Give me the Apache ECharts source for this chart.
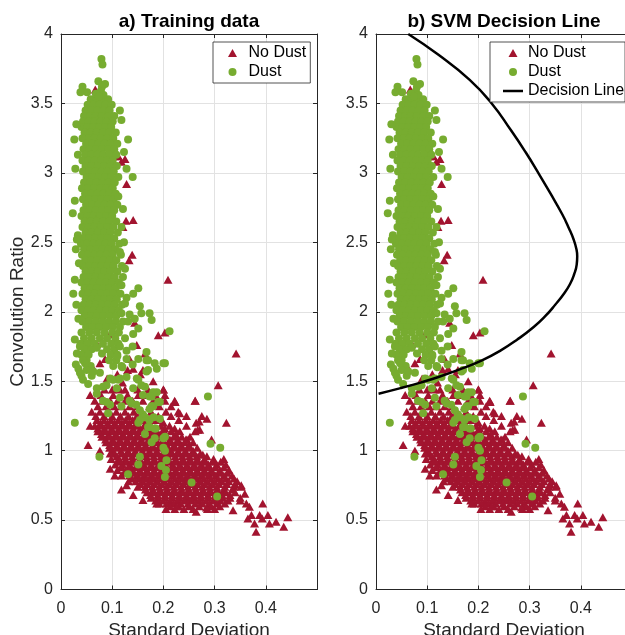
<!DOCTYPE html>
<html>
<head>
<meta charset="utf-8">
<script src="https://cdn.jsdelivr.net/npm/echarts@6/dist/echarts.min.js"></script>
<style>html,body{margin:0;padding:0;background:#fff}#c{width:625px;height:635px}</style>
</head>
<body>
<div id="c"></div>
<script>
// ---------------- DATA ----------------
const titles = ['a) Training data', 'b) SVM Decision Line'];
const xAxisName = 'Standard Deviation';
const yAxisName = 'Convolution Ratio';
const seriesNames = ['No Dust', 'Dust', 'Decision Line'];
const xTickLabels = ['0', '0.1', '0.2', '0.3', '0.4'];
const yTickLabels = ['0', '0.5', '1', '1.5', '2', '2.5', '3', '3.5', '4'];

// Dust: dense core rows  [y, [x values]]
const dustRows = [
  [3.53, [0.058, 0.069, 0.081, 0.092]],
  [3.49, [0.052, 0.063, 0.075, 0.087, 0.099]],
  [3.45, [0.048, 0.060, 0.071, 0.083, 0.095]],
  [3.41, [0.045, 0.057, 0.068, 0.080, 0.092, 0.104]],
  [3.37, [0.043, 0.054, 0.066, 0.077, 0.089, 0.101]],
  [3.33, [0.040, 0.052, 0.063, 0.075, 0.086, 0.098]],
  [3.29, [0.046, 0.058, 0.070, 0.082, 0.094, 0.107]],
  [3.25, [0.042, 0.055, 0.066, 0.078, 0.090, 0.102]],
  [3.21, [0.049, 0.061, 0.073, 0.085, 0.097, 0.110]],
  [3.17, [0.044, 0.056, 0.068, 0.080, 0.093, 0.104]],
  [3.13, [0.047, 0.059, 0.071, 0.083, 0.095, 0.108]],
  [3.09, [0.042, 0.054, 0.066, 0.078, 0.090, 0.101]],
  [3.05, [0.048, 0.060, 0.072, 0.084, 0.096, 0.109]],
  [3.01, [0.043, 0.055, 0.067, 0.079, 0.091, 0.103]],
  [2.97, [0.050, 0.062, 0.074, 0.086, 0.098, 0.112]],
  [2.93, [0.045, 0.057, 0.069, 0.081, 0.093, 0.105]],
  [2.89, [0.041, 0.053, 0.065, 0.077, 0.089, 0.101]],
  [2.85, [0.047, 0.059, 0.071, 0.083, 0.095, 0.107]],
  [2.81, [0.043, 0.055, 0.067, 0.079, 0.091, 0.103]],
  [2.77, [0.049, 0.061, 0.073, 0.085, 0.097, 0.110]],
  [2.73, [0.044, 0.056, 0.068, 0.080, 0.092, 0.104]],
  [2.69, [0.040, 0.052, 0.064, 0.076, 0.088, 0.100]],
  [2.65, [0.046, 0.058, 0.070, 0.082, 0.094, 0.108]],
  [2.61, [0.042, 0.054, 0.066, 0.078, 0.090, 0.102]],
  [2.57, [0.048, 0.060, 0.072, 0.084, 0.096, 0.111]],
  [2.53, [0.043, 0.055, 0.067, 0.079, 0.091, 0.104]],
  [2.49, [0.039, 0.051, 0.063, 0.075, 0.087, 0.099, 0.114]],
  [2.45, [0.045, 0.057, 0.069, 0.081, 0.093, 0.106]],
  [2.41, [0.041, 0.053, 0.065, 0.077, 0.089, 0.101, 0.117]],
  [2.37, [0.047, 0.059, 0.071, 0.083, 0.095, 0.108]],
  [2.33, [0.043, 0.055, 0.067, 0.079, 0.091, 0.103, 0.119]],
  [2.29, [0.048, 0.060, 0.072, 0.084, 0.096, 0.110]],
  [2.25, [0.044, 0.056, 0.068, 0.080, 0.092, 0.105, 0.121]],
  [2.21, [0.040, 0.052, 0.064, 0.076, 0.088, 0.100, 0.113]],
  [2.17, [0.046, 0.058, 0.070, 0.082, 0.094, 0.107]],
  [2.13, [0.042, 0.054, 0.066, 0.078, 0.090, 0.102, 0.116]],
  [2.09, [0.048, 0.060, 0.072, 0.084, 0.096, 0.109]],
  [2.05, [0.044, 0.056, 0.068, 0.080, 0.092, 0.105, 0.119]],
  [2.01, [0.040, 0.052, 0.064, 0.076, 0.088, 0.100, 0.113]],
  [1.97, [0.046, 0.058, 0.070, 0.082, 0.095, 0.108]],
  [1.93, [0.042, 0.055, 0.068, 0.081, 0.094, 0.107, 0.121]],
  [1.89, [0.049, 0.062, 0.075, 0.088, 0.101, 0.115]],
  [1.85, [0.040, 0.055, 0.070, 0.085, 0.100, 0.113]],
  [1.81, [0.045, 0.060, 0.076, 0.090, 0.106]],
  [1.77, [0.038, 0.052, 0.066, 0.082, 0.098, 0.112]],
  [1.73, [0.046, 0.060, 0.090, 0.104]],
  [1.69, [0.040, 0.054, 0.097, 0.110]],
  [1.65, [0.050, 0.094, 0.108]],
  [1.61, [0.058, 0.102, 0.118]]
];
// Dust: scattered points [x, y]
const dustPoints = [
  [0.079,3.82],[0.081,3.78],[0.073,3.66],[0.086,3.64],[0.080,3.62],[0.078,3.59],[0.083,3.56],
  [0.042,3.62],[0.038,3.58],[0.051,3.58],[0.068,3.57],[0.074,3.55],
  [0.026,3.24],[0.028,3.03],[0.027,2.80],[0.023,2.71],[0.030,3.35],[0.033,2.55],[0.029,2.45],
  [0.031,2.52],[0.027,2.23],[0.024,2.13],[0.034,1.95],[0.030,2.05],[0.035,2.35],[0.033,3.13],
  [0.131,3.24],[0.123,3.15],[0.128,3.03],[0.140,2.97],[0.118,3.38],[0.115,3.45],[0.112,2.83],
  [0.123,2.50],[0.115,2.43],[0.125,2.31],[0.118,2.61],[0.121,2.74],[0.118,2.19],
  [0.151,2.17],[0.141,2.13],[0.128,2.10],[0.125,2.06],[0.154,2.04],[0.157,1.99],[0.134,1.98],
  [0.144,1.95],[0.118,1.99],[0.173,1.99],[0.177,1.94],[0.212,1.86],[0.151,1.88],[0.141,1.84],
  [0.125,1.81],[0.131,1.93],[0.115,1.75],[0.128,1.72],[0.151,1.66],[0.167,1.71],[0.170,1.65],
  [0.183,1.63],[0.203,1.63],[0.187,1.59],[0.170,1.58],[0.151,1.51],[0.128,1.53],[0.112,1.51],
  [0.096,1.52],[0.076,1.56],[0.060,1.54],[0.043,1.51],[0.053,1.48],[0.070,1.45],[0.082,1.46],
  [0.109,1.45],[0.141,1.45],[0.164,1.46],[0.160,1.40],[0.134,1.36],[0.118,1.32],[0.147,1.33],
  [0.173,1.39],[0.187,1.42],[0.193,1.35],[0.180,1.32],[0.160,1.26],[0.173,1.22],[0.151,1.20],
  [0.173,1.17],[0.164,1.12],[0.183,1.09],[0.203,1.10],[0.203,1.00],[0.082,1.36],[0.096,1.33],
  [0.027,1.20],[0.075,0.956],[0.027,1.80],[0.031,1.70],[0.037,1.75],[0.043,1.65],[0.029,1.62],
  [0.034,1.59],[0.050,1.58],[0.040,1.54],[0.047,1.63],[0.037,1.56],[0.063,1.57],[0.089,1.47],
  [0.102,1.51],[0.115,1.52],[0.128,1.66],[0.167,1.65],[0.200,1.63],[0.167,1.57],[0.148,1.52],
  [0.157,1.47],[0.180,1.42],[0.138,1.34],[0.089,1.35],[0.070,1.41],[0.115,1.38],[0.154,1.29],
  [0.164,1.24],[0.170,1.17],[0.193,1.23],[0.092,1.27],[0.177,1.32],[0.190,1.35],[0.177,1.39],
  [0.191,1.35],[0.287,1.39],[0.173,1.30],[0.181,1.24],[0.185,1.16],[0.177,1.06],[0.200,1.09],
  [0.200,1.02],[0.206,0.93],[0.196,0.89],[0.205,0.86],[0.203,0.81],[0.255,0.77],[0.292,1.05],
  [0.311,1.02],[0.305,0.67],[0.131,0.83],[0.154,0.956],[0.151,0.90],[0.154,1.22],[0.183,1.16],
  [0.140,1.62],[0.120,1.60],[0.110,1.68],[0.140,1.75],[0.080,1.70],[0.070,1.74]
];

// No Dust: dense core rows [y, [x values]]
const noDustRows = [
  [1.44, [0.085, 0.100, 0.115, 0.125, 0.150, 0.170, 0.200]],
  [1.40, [0.057, 0.078, 0.102, 0.130, 0.151, 0.165, 0.185, 0.203]],
  [1.36, [0.066, 0.082, 0.096, 0.110, 0.125, 0.140, 0.160, 0.180, 0.203, 0.222, 0.262]],
  [1.32, [0.072, 0.088, 0.104, 0.118, 0.134, 0.150, 0.173, 0.192, 0.215]],
  [1.28, [0.060, 0.076, 0.092, 0.108, 0.125, 0.142, 0.158, 0.176, 0.205, 0.229]],
  [1.25, [0.068, 0.084, 0.100, 0.116, 0.132, 0.148, 0.165, 0.190, 0.215, 0.245, 0.275]],
  [1.22, [0.070, 0.084, 0.098, 0.112, 0.126, 0.140, 0.160, 0.185, 0.230]],
  [1.20, [0.077, 0.091, 0.105, 0.119, 0.133, 0.147, 0.171, 0.200]],
  [1.18, [0.066, 0.078, 0.092, 0.106, 0.120, 0.134, 0.148, 0.162, 0.176, 0.195, 0.212, 0.245]],
  [1.16, [0.072, 0.085, 0.099, 0.113, 0.127, 0.141, 0.155, 0.169, 0.183, 0.203, 0.222]],
  [1.14, [0.072, 0.086, 0.100, 0.114, 0.128, 0.142, 0.156, 0.170, 0.184, 0.198, 0.215, 0.232, 0.262]],
  [1.12, [0.079, 0.093, 0.107, 0.121, 0.135, 0.149, 0.163, 0.177, 0.191, 0.205, 0.224]],
  [1.10, [0.080, 0.094, 0.108, 0.122, 0.136, 0.150, 0.164, 0.178, 0.192, 0.206, 0.220, 0.236, 0.252]],
  [1.08, [0.087, 0.101, 0.115, 0.129, 0.143, 0.157, 0.171, 0.185, 0.199, 0.213, 0.228, 0.246]],
  [1.06, [0.088, 0.102, 0.116, 0.130, 0.144, 0.158, 0.172, 0.186, 0.200, 0.214, 0.228, 0.242, 0.258]],
  [1.04, [0.095, 0.109, 0.123, 0.137, 0.151, 0.165, 0.179, 0.193, 0.207, 0.221, 0.235, 0.250]],
  [1.02, [0.095, 0.110, 0.124, 0.138, 0.152, 0.166, 0.180, 0.194, 0.208, 0.222, 0.236, 0.250, 0.266]],
  [1.00, [0.102, 0.117, 0.131, 0.145, 0.159, 0.173, 0.187, 0.201, 0.215, 0.229, 0.243, 0.258]],
  [0.98, [0.104, 0.118, 0.132, 0.146, 0.160, 0.174, 0.188, 0.202, 0.216, 0.230, 0.244, 0.258, 0.272]],
  [0.96, [0.109, 0.125, 0.139, 0.153, 0.167, 0.181, 0.195, 0.209, 0.223, 0.237, 0.251, 0.265, 0.285]],
  [0.94, [0.098, 0.112, 0.126, 0.140, 0.154, 0.168, 0.182, 0.196, 0.210, 0.224, 0.238, 0.252, 0.266, 0.280, 0.298, 0.318]],
  [0.92, [0.113, 0.127, 0.141, 0.155, 0.169, 0.183, 0.197, 0.211, 0.225, 0.239, 0.253, 0.267, 0.281, 0.296, 0.312]],
  [0.90, [0.106, 0.120, 0.134, 0.148, 0.162, 0.176, 0.190, 0.204, 0.218, 0.232, 0.246, 0.260, 0.274, 0.288, 0.304, 0.322]],
  [0.88, [0.118, 0.133, 0.147, 0.161, 0.175, 0.189, 0.203, 0.217, 0.231, 0.245, 0.259, 0.273, 0.287, 0.302, 0.318]],
  [0.86, [0.110, 0.126, 0.140, 0.154, 0.168, 0.182, 0.196, 0.210, 0.224, 0.238, 0.252, 0.266, 0.280, 0.294, 0.310, 0.328]],
  [0.84, [0.125, 0.141, 0.155, 0.169, 0.183, 0.197, 0.211, 0.225, 0.239, 0.253, 0.267, 0.281, 0.295, 0.310, 0.325]],
  [0.82, [0.118, 0.134, 0.148, 0.162, 0.176, 0.190, 0.204, 0.218, 0.232, 0.246, 0.260, 0.274, 0.288, 0.302, 0.318, 0.334]],
  [0.80, [0.139, 0.153, 0.167, 0.181, 0.195, 0.209, 0.223, 0.237, 0.251, 0.265, 0.279, 0.293, 0.307, 0.322, 0.338]],
  [0.78, [0.132, 0.146, 0.160, 0.174, 0.188, 0.202, 0.216, 0.230, 0.244, 0.258, 0.272, 0.286, 0.300, 0.314, 0.328, 0.344]],
  [0.76, [0.155, 0.169, 0.183, 0.197, 0.211, 0.225, 0.239, 0.253, 0.267, 0.281, 0.295, 0.309, 0.324, 0.340]],
  [0.74, [0.150, 0.164, 0.178, 0.192, 0.206, 0.220, 0.234, 0.248, 0.262, 0.276, 0.290, 0.304, 0.320, 0.338, 0.352]],
  [0.72, [0.165, 0.179, 0.193, 0.207, 0.221, 0.235, 0.249, 0.263, 0.277, 0.291, 0.305, 0.318, 0.334]],
  [0.70, [0.168, 0.182, 0.196, 0.210, 0.224, 0.238, 0.252, 0.266, 0.280, 0.294, 0.308, 0.322, 0.340]],
  [0.68, [0.175, 0.189, 0.203, 0.217, 0.231, 0.245, 0.259, 0.273, 0.287, 0.301, 0.315, 0.330]],
  [0.66, [0.176, 0.190, 0.204, 0.218, 0.232, 0.246, 0.260, 0.274, 0.288, 0.302, 0.316, 0.330, 0.350]],
  [0.64, [0.185, 0.199, 0.213, 0.227, 0.241, 0.255, 0.269, 0.283, 0.297, 0.311, 0.326]],
  [0.62, [0.192, 0.206, 0.220, 0.234, 0.248, 0.262, 0.276, 0.290, 0.304, 0.320]],
  [0.60, [0.213, 0.230, 0.250, 0.270, 0.293, 0.310]],
  [0.58, [0.205, 0.222, 0.240, 0.258, 0.286, 0.300]]
];
// No Dust: scattered points [x, y]
const noDustPoints = [
  [0.067,3.60],[0.091,3.45],[0.112,3.12],[0.125,3.10],[0.118,3.08],[0.128,2.92],[0.085,3.10],
  [0.095,3.08],[0.105,3.12],[0.121,2.61],[0.127,2.655],[0.141,2.66],[0.133,2.37],[0.139,2.41],
  [0.209,2.23],[0.144,1.92],[0.190,1.83],[0.203,1.85],[0.096,1.84],[0.070,1.77],[0.050,1.74],
  [0.148,1.76],[0.134,1.66],[0.076,1.63],[0.063,1.59],[0.086,1.66],[0.160,1.58],[0.141,1.59],
  [0.180,1.50],[0.164,1.70],[0.342,1.70],[0.307,1.47],[0.262,1.36],[0.223,1.35],[0.200,1.44],
  [0.057,1.18],[0.110,1.55],[0.130,1.58],[0.155,1.55],[0.090,1.52],[0.120,1.49],
  [0.232,1.27],[0.264,1.20],[0.270,1.21],[0.271,1.15],[0.285,1.23],[0.323,1.20],[0.294,1.08],
  [0.244,1.08],[0.267,1.15],[0.277,0.97],[0.053,1.04],[0.076,1.00],[0.096,0.98],[0.096,0.87],
  [0.115,0.93],[0.128,0.75],[0.141,0.68],[0.160,0.645],[0.187,0.62],[0.226,0.60],[0.264,0.56],
  [0.284,0.59],[0.336,0.57],[0.105,0.82],[0.118,0.72],[0.352,0.75],[0.359,0.69],[0.362,0.62],
  [0.368,0.595],[0.350,0.64],[0.394,0.62],[0.372,0.536],[0.388,0.536],[0.404,0.536],[0.378,0.476],
  [0.381,0.416],[0.407,0.476],[0.420,0.488],[0.435,0.452],[0.443,0.52],[0.365,0.512],[0.393,0.512]
];

// Decision line [x, y]
const decisionLine = [
  [0.063,4.00],[0.122,3.85],[0.183,3.67],[0.226,3.50],[0.263,3.31],[0.292,3.15],[0.317,3.00],
  [0.341,2.85],[0.364,2.70],[0.377,2.60],[0.386,2.52],[0.3915,2.45],[0.393,2.40],[0.392,2.34],
  [0.387,2.27],[0.379,2.20],[0.367,2.13],[0.350,2.05],[0.331,1.97],[0.308,1.89],[0.276,1.80],
  [0.243,1.72],[0.207,1.65],[0.167,1.59],[0.122,1.53],[0.087,1.49],[0.048,1.45],[0.005,1.41]
];

// ---------------- BUILD ----------------
function fromRows(rows) {
  const out = [];
  rows.forEach(r => r[1].forEach(x => out.push([x, r[0]])));
  return out;
}
const noDust = fromRows(noDustRows).concat(noDustPoints);
const dust = fromRows(dustRows).concat(dustPoints);

const FONT = '"Liberation Sans", Arial, Helvetica, sans-serif';
const AX = '#262626';
const RED = '#A2142F';
const GREEN = '#77AC30';
const GRIDC = '#e2e2e2';

function xAxes(g) {
  return [
    { type: 'value', gridIndex: g, min: 0, max: 0.5, interval: 0.1,
      name: xAxisName, nameLocation: 'middle', nameGap: 29,
      nameTextStyle: { fontSize: 19, color: AX, fontFamily: FONT },
      axisLine: { show: true, onZero: false, lineStyle: { color: AX, width: 1 } },
      axisTick: { show: true, inside: true, length: 4, lineStyle: { color: AX } },
      axisLabel: { fontSize: 16, color: AX, fontFamily: FONT, margin: 11,
        formatter: v => { const i = Math.round(v * 10); return i < xTickLabels.length ? xTickLabels[i] : ''; } },
      splitLine: { show: true, lineStyle: { color: GRIDC, width: 1 } } },
    { type: 'value', gridIndex: g, position: 'top', min: 0, max: 0.5, interval: 0.1,
      axisLine: { show: true, onZero: false, lineStyle: { color: AX, width: 1 } },
      axisTick: { show: true, inside: true, length: 4, lineStyle: { color: AX } },
      axisLabel: { show: false }, splitLine: { show: false } }
  ];
}
function yAxes(g, named) {
  return [
    { type: 'value', gridIndex: g, min: 0, max: 4, interval: 0.5,
      name: named ? yAxisName : '', nameLocation: 'middle', nameGap: 33,
      nameTextStyle: { fontSize: 19, color: AX, fontFamily: FONT },
      axisLine: { show: true, onZero: false, lineStyle: { color: AX, width: 1 } },
      axisTick: { show: true, inside: true, length: 4, lineStyle: { color: AX } },
      axisLabel: { fontSize: 16, color: AX, fontFamily: FONT, margin: 8,
        formatter: v => yTickLabels[Math.round(v * 2)] },
      splitLine: { show: true, lineStyle: { color: GRIDC, width: 1 } } },
    { type: 'value', gridIndex: g, position: 'right', min: 0, max: 4, interval: 0.5,
      axisLine: { show: true, onZero: false, lineStyle: { color: AX, width: 1 } },
      axisTick: { show: true, inside: true, length: 4, lineStyle: { color: AX } },
      axisLabel: { show: false }, splitLine: { show: false } }
  ];
}

const legendCommon = {
  orient: 'vertical', top: 42, itemGap: 3, itemHeight: 8,
  backgroundColor: '#fff', borderColor: AX, borderWidth: 0.8, borderRadius: 0,
  selectedMode: false, symbolKeepAspect: true,
  textStyle: { fontSize: 16, color: '#000', fontFamily: FONT, lineHeight: 16 }
};
const TRI_ICON = 'path://M4.5,0L9,8L0,8Z';
const LINE_ICON = 'path://M0,0H20V2.5H0Z';

const option = {
  animation: false,
  backgroundColor: '#fff',
  title: [
    { text: titles[0], left: 189, top: 12, padding: 0, textAlign: 'center',
      textStyle: { fontSize: 19, fontWeight: 'bold', color: '#000', fontFamily: FONT } },
    { text: titles[1], left: 504, top: 12, padding: 0, textAlign: 'center',
      textStyle: { fontSize: 19, fontWeight: 'bold', color: '#000', fontFamily: FONT } }
  ],
  legend: [
    Object.assign({}, legendCommon, { left: 213, padding: [3, 4, 3, 15], itemWidth: 22,
      data: [{ name: seriesNames[0], icon: TRI_ICON }, { name: seriesNames[1], icon: 'circle' }] }),
    Object.assign({}, legendCommon, { left: 490, padding: [3, 1, 3, 13], itemWidth: 20,
      data: [{ name: seriesNames[0], icon: TRI_ICON }, { name: seriesNames[1], icon: 'circle' },
             { name: seriesNames[2], icon: LINE_ICON }] })
  ],
  grid: [
    { left: 61, top: 34, width: 256, height: 555.5, outerBoundsMode: 'none', containLabel: false },
    { left: 376, top: 34, width: 256, height: 555.5, outerBoundsMode: 'none', containLabel: false }
  ],
  xAxis: xAxes(0).concat(xAxes(1)),
  yAxis: yAxes(0, true).concat(yAxes(1, false)),
  series: [
    { name: seriesNames[0], type: 'scatter', xAxisIndex: 0, yAxisIndex: 0, data: noDust,
      symbol: 'triangle', symbolSize: [9, 8], itemStyle: { color: RED, opacity: 1 } },
    { name: seriesNames[1], type: 'scatter', xAxisIndex: 0, yAxisIndex: 0, data: dust,
      symbol: 'circle', symbolSize: 8, itemStyle: { color: GREEN, opacity: 1 } },
    { name: seriesNames[0], type: 'scatter', xAxisIndex: 2, yAxisIndex: 2, data: noDust,
      symbol: 'triangle', symbolSize: [9, 8], itemStyle: { color: RED, opacity: 1 } },
    { name: seriesNames[1], type: 'scatter', xAxisIndex: 2, yAxisIndex: 2, data: dust,
      symbol: 'circle', symbolSize: 8, itemStyle: { color: GREEN, opacity: 1 } },
    { name: seriesNames[2], type: 'line', xAxisIndex: 2, yAxisIndex: 2, data: decisionLine,
      smooth: 0.5, symbol: 'none', clip: true,
      lineStyle: { color: '#000', width: 2.5 }, itemStyle: { color: '#000' } }
  ]
};

const chart = echarts.init(document.getElementById('c'), null, { renderer: 'canvas' });
chart.setOption(option);
</script>
</body>
</html>
